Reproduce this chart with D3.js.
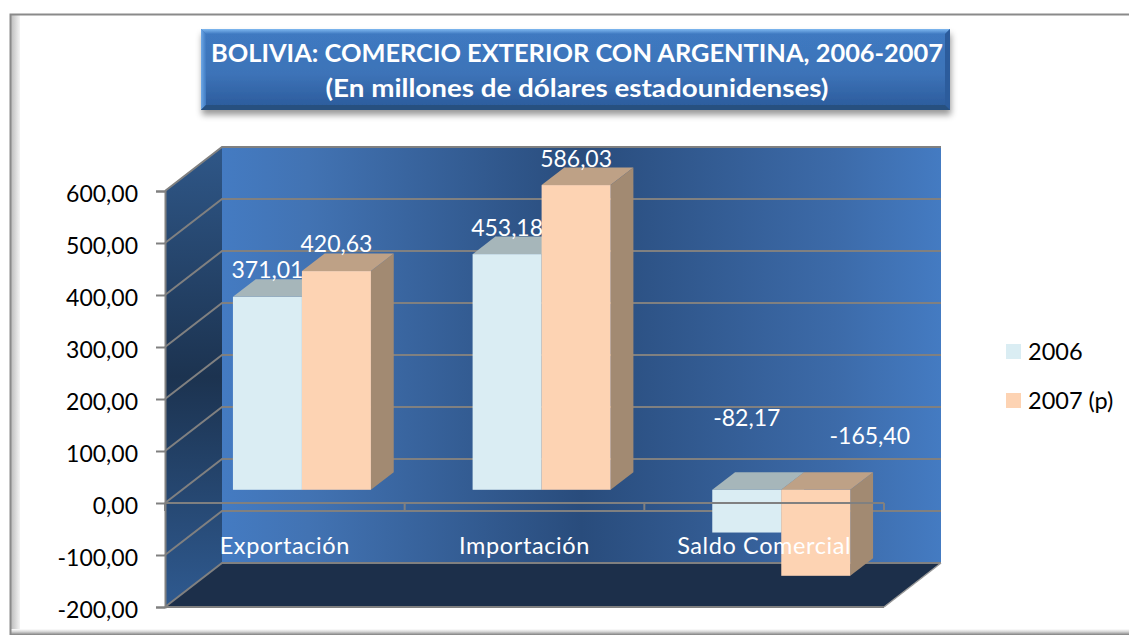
<!DOCTYPE html>
<html><head><meta charset="utf-8">
<script src="https://cdn.jsdelivr.net/npm/d3@7"></script>
<style>html,body{margin:0;padding:0;background:#fff}svg{display:block}text{font-family:Lato,"Open Sans",sans-serif}</style>
</head><body><div id="c"></div>
<script>
const categories=["Exportación","Importación","Saldo Comercial"];
const seriesNames=["2006","2007 (p)"];
const values2006=[371.01,453.18,-82.17];
const values2007=[420.63,586.03,-165.40];
const yTicks=[600,500,400,300,200,100,0,-100,-200];
const titleLines=["BOLIVIA: COMERCIO EXTERIOR CON ARGENTINA, 2006-2007","(En millones de dólares estadounidenses)"];

const W=1129,H=635;
const svg=d3.select("#c").append("svg").attr("width",W).attr("height",H);
const defs=svg.append("defs");
function grad(id,x2,y2,stops){const g=defs.append("linearGradient").attr("id",id).attr("x1",0).attr("y1",0).attr("x2",x2).attr("y2",y2);
 stops.forEach(s=>g.append("stop").attr("offset",s[0]).attr("stop-color",s[1]));}
grad("wall",1,0,[[0,"#447bc2"],[.12,"#4273b3"],[.5,"#294c7c"],[.85,"#3c6aa8"],[1,"#447bc2"]]);
grad("side",0,1,[[0,"#2f5788"],[.5,"#1c3350"],[1,"#2f5a90"]]);
grad("box",0,1,[[0,"#3f7ac2"],[.55,"#3d73b8"],[1,"#2a5a9a"]]);
grad("edgeTop",0,1,[[0,"#7fb8f0"],[1,"#3f7ac2"]]);
grad("edgeLeft",1,0,[[0,"#6ea8e6"],[1,"#3f7ac2"]]);
grad("frameL",1,0,[[0,"#bdbdbd"],[1,"#f4f4f4"]]);
grad("frameB",0,1,[[0,"#ffffff"],[.45,"#d5d5d5"],[1,"#808080"]]);
const sh=defs.append("filter").attr("id","shadow").attr("x","-5%").attr("y","-20%").attr("width","110%").attr("height","150%");
sh.append("feDropShadow").attr("dx",1).attr("dy",5).attr("stdDeviation",3).attr("flood-color","#000").attr("flood-opacity",.4);

// frame
svg.append("rect").attr("x",11).attr("y",15).attr("width",9).attr("height",617).attr("fill","url(#frameL)");
svg.append("rect").attr("x",10).attr("y",629).attr("width",W-10).attr("height",6).attr("fill","url(#frameB)");
svg.append("path").attr("d",`M${W},14.5H10.5V635`).attr("fill","none").attr("stroke","#8a8a8a").attr("stroke-width",2);

// title box
const bx=201,by=29,bw=749,bh=81,bev=5;
svg.append("rect").attr("x",bx).attr("y",by).attr("width",bw).attr("height",bh).attr("fill","url(#box)").attr("filter","url(#shadow)");
svg.append("polygon").attr("points",`${bx},${by} ${bx+bw},${by} ${bx+bw-bev},${by+bev} ${bx+bev},${by+bev}`).attr("fill","url(#edgeTop)");
svg.append("polygon").attr("points",`${bx},${by} ${bx+bev},${by+bev} ${bx+bev},${by+bh-bev} ${bx},${by+bh}`).attr("fill","url(#edgeLeft)");
svg.append("polygon").attr("points",`${bx+bw},${by} ${bx+bw-bev},${by+bev} ${bx+bw-bev},${by+bh-bev} ${bx+bw},${by+bh}`).attr("fill","#2c5c9c");
svg.append("polygon").attr("points",`${bx},${by+bh} ${bx+bev},${by+bh-bev} ${bx+bw-bev},${by+bh-bev} ${bx+bw},${by+bh}`).attr("fill","#27507f");
const titleWidths=[732,503];
svg.selectAll(".tl").data(titleLines).join("text").attr("x",577).attr("y",(d,i)=>62+i*35)
 .attr("text-anchor","middle").attr("fill","#fff").attr("font-weight",700).attr("font-size",25.5)
 .attr("textLength",(d,i)=>titleWidths[i]).attr("lengthAdjust","spacingAndGlyphs").text(d=>d);

// scales
const plotL=165,plotR=884,dx=57,dy=-44;
const y=d3.scaleLinear().domain([-200,600]).range([607,191]);
const x=d3.scaleBand().domain(categories).range([plotL,plotR]);
const barW=69;
const dFront=.30,dBack=.70;
const GR="#808080";

// walls
const yB=v=>y(v)+dy;
svg.append("polygon").attr("points",[[plotL+dx,yB(600)],[plotR+dx,yB(600)],[plotR+dx,yB(-200)],[plotL+dx,yB(-200)]].join(" ")).attr("fill","url(#wall)");
svg.append("polygon").attr("points",[[plotL,y(600)],[plotL+dx,yB(600)],[plotL+dx,yB(-200)],[plotL,y(-200)]].join(" ")).attr("fill","url(#side)");
svg.append("polygon").attr("points",[[plotL,y(-200)],[plotL+dx,yB(-200)],[plotR+dx,yB(-200)],[plotR,y(-200)]].join(" ")).attr("fill","#1c2f4a");
// grid
const g=svg.append("g").attr("fill","none").attr("stroke",GR).attr("stroke-width",2);
g.selectAll("path").data(yTicks).join("path").attr("d",v=>`M${plotL},${y(v)}L${plotL+dx},${yB(v)}H${plotR+dx}`);
svg.append("path").attr("d",`M${plotR},${y(-200)}L${plotR+dx},${yB(-200)}`).attr("stroke","#999").attr("stroke-width",1.5).attr("fill","none");
svg.append("path").attr("d",`M${plotR},${y(-200)}H${plotL}`).attr("stroke",GR).attr("stroke-width",2);

// bars
const dxF=dx*dFront,dyF=dy*dFront,dD=dx*(dBack-dFront),dE=dy*(dBack-dFront);
const series=[{name:seriesNames[0],v:values2006,front:"#daedf3",top:"#a6b6ba",side:"#8fa3a8"},
              {name:seriesNames[1],v:values2007,front:"#fdd3b3",top:"#bea186",side:"#a28a72"}];
const barLeft=(i,si)=>x(categories[i])+x.bandwidth()/2+dxF-barW+si*barW;
series.forEach((s,si)=>{
 const gb=svg.append("g");
 gb.selectAll("g").data(s.v).join("g").each(function(v,i){
  const sel=d3.select(this);
  const left=barLeft(i,si);
  const yT=y(Math.max(v,0))+dyF, yBt=y(Math.min(v,0))+dyF;
  sel.append("polygon").attr("points",[[left+barW,yT],[left+barW+dD,yT+dE],[left+barW+dD,yBt+dE],[left+barW,yBt]].join(" ")).attr("fill",s.side);
  sel.append("polygon").attr("points",[[left,yT],[left+dD,yT+dE],[left+barW+dD,yT+dE],[left+barW,yT]].join(" ")).attr("fill",s.top);
  sel.append("rect").attr("x",left).attr("y",yT).attr("width",barW).attr("height",yBt-yT).attr("fill",s.front);
 });
});

// axes
const fmt=v=>d3.format(".2f")(v).replace(".",",").replace("\u2212","-");
const axY=d3.axisLeft(y).tickValues(yTicks).tickSize(9).tickPadding(18).tickFormat(fmt);
const ga=svg.append("g").attr("transform",`translate(${plotL},0)`).call(axY);
ga.selectAll("path,line").attr("stroke",GR).attr("stroke-width",2);
ga.selectAll("text").attr("font-size",23).attr("fill","#000").attr("font-family","Lato").attr("dy","0.46em");
const edges=[...categories.map(c=>x(c)),plotR];
const axX=svg.append("g").attr("fill","none").attr("stroke",GR).attr("stroke-width",2);
axX.append("path").attr("d",`M${plotL},${y(0)}H${plotR}`);
axX.selectAll("line").data(edges).join("line").attr("x1",d=>d).attr("x2",d=>d).attr("y1",y(0)).attr("y2",y(0)+8);

// category labels
svg.selectAll(".cat").data(categories).join("text").attr("x",d=>x(d)+x.bandwidth()/2).attr("y",554)
 .attr("text-anchor","middle").attr("fill","#fff").attr("font-size",23.5).attr("letter-spacing",0.6).text(d=>d);

// data labels: offsets from each bar's end, as placed in the source chart
const labelShift=[[[0,-19],[0,-19]],[[0,-18],[0,-18]],[[0,-107],[54,-132]]];
series.forEach((s,si)=>{
 svg.selectAll(".dl"+si).data(s.v).join("text")
  .attr("x",(v,i)=>barLeft(i,si)+barW/2+labelShift[i][si][0])
  .attr("y",(v,i)=>y(v)+dyF+labelShift[i][si][1])
  .attr("text-anchor","middle").attr("fill","#fff").attr("font-size",23).text(fmt);
});

// legend
const leg=svg.append("g");
series.forEach((s,i)=>{
 const ly=344+i*49;
 leg.append("rect").attr("x",1006).attr("y",ly).attr("width",15).attr("height",15).attr("fill",s.front);
 leg.append("text").attr("x",1028).attr("y",ly+16).attr("font-size",23.5).attr("fill","#000").text(s.name);
});
</script></body></html>
